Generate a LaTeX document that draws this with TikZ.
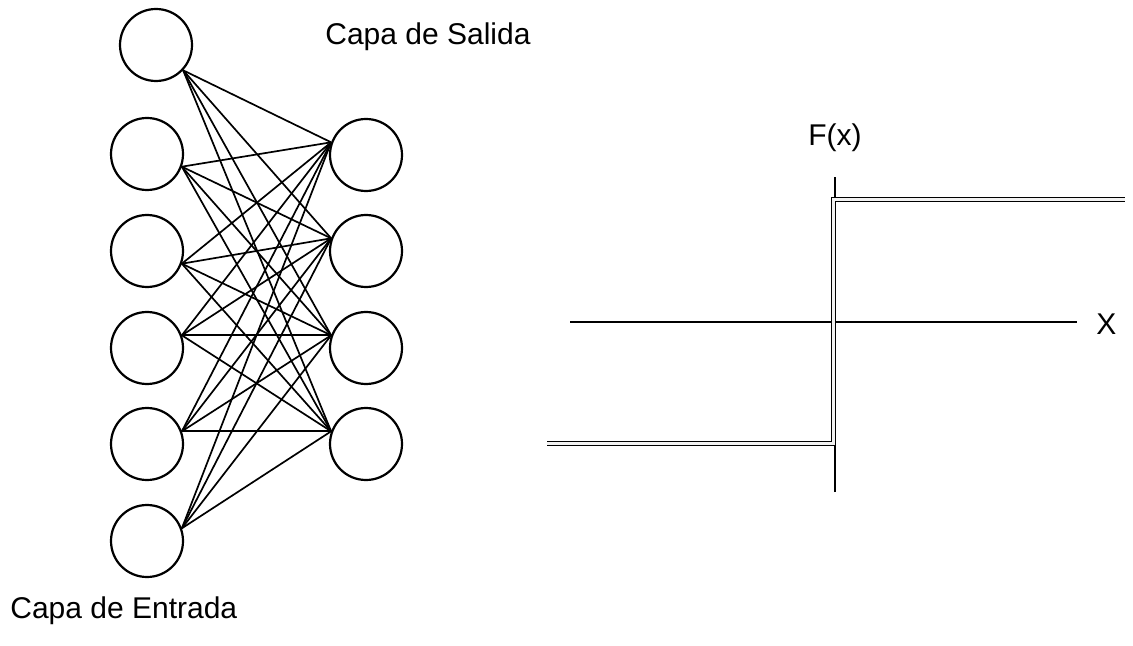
\documentclass[tikz,border=0pt]{standalone}
\usepackage{fontspec}
\setmainfont{Liberation Sans}
\usetikzlibrary{positioning}

\begin{document}
\begin{tikzpicture}[x=0.5pt,y=-0.5pt,
    neuron/.style={circle,draw,line width=1.1pt,minimum size=36pt,inner sep=0pt},
    peso/.style={line width=0.85pt},
    eje/.style={line width=0.9pt},
    escalon/.style={draw=black,line width=0.5pt,double=gray!10,double distance=1.5pt},
    rotulo/.style={inner sep=0pt,anchor=base west,font=\fontsize{15}{18}\selectfont}]
  \useasboundingbox (0,0) rectangle (1133,646);

  % capa de entrada
  \node[neuron] (in1) at (156,45) {};
  \node[neuron] (in2) at (147,154) {};
  \node[neuron] (in3) at (147,251) {};
  \node[neuron] (in4) at (147,348) {};
  \node[neuron] (in5) at (147,444) {};
  \node[neuron] (in6) at (147,541) {};

  % capa de salida
  \node[neuron] (out1) at (366,155) {};
  \node[neuron] (out2) at (366,251) {};
  \node[neuron] (out3) at (366,348) {};
  \node[neuron] (out4) at (366,444) {};

  % todas con todas
  \foreach \i/\a in {1/-43,2/-20,3/-20,4/20,5/20,6/20}
    \foreach \j in {1,...,4}
      \draw[peso] (in\i.\a) -- (out\j.160);

  \node[rotulo] (salida) at (325,45) {Capa de Salida};
  \node[rotulo] (entrada) at (10,618) {Capa de Entrada};

  % funcion escalon
  \coordinate (xizq) at (570,322);
  \coordinate (xder) at (1077,322);
  \coordinate (fabajo) at (835,492);
  \coordinate (farriba) at (835,177);
  \draw[eje] (xizq) -- (xder);
  \draw[eje] (fabajo) -- (farriba);
  \draw[escalon] (547,443) -- (833,443) -- (833,200) -- (1125,200);

  \node[rotulo] (fx) at (808,146) {F(x)};
  \node[rotulo] (x) at (1096,335) {X};
\end{tikzpicture}
\end{document}
